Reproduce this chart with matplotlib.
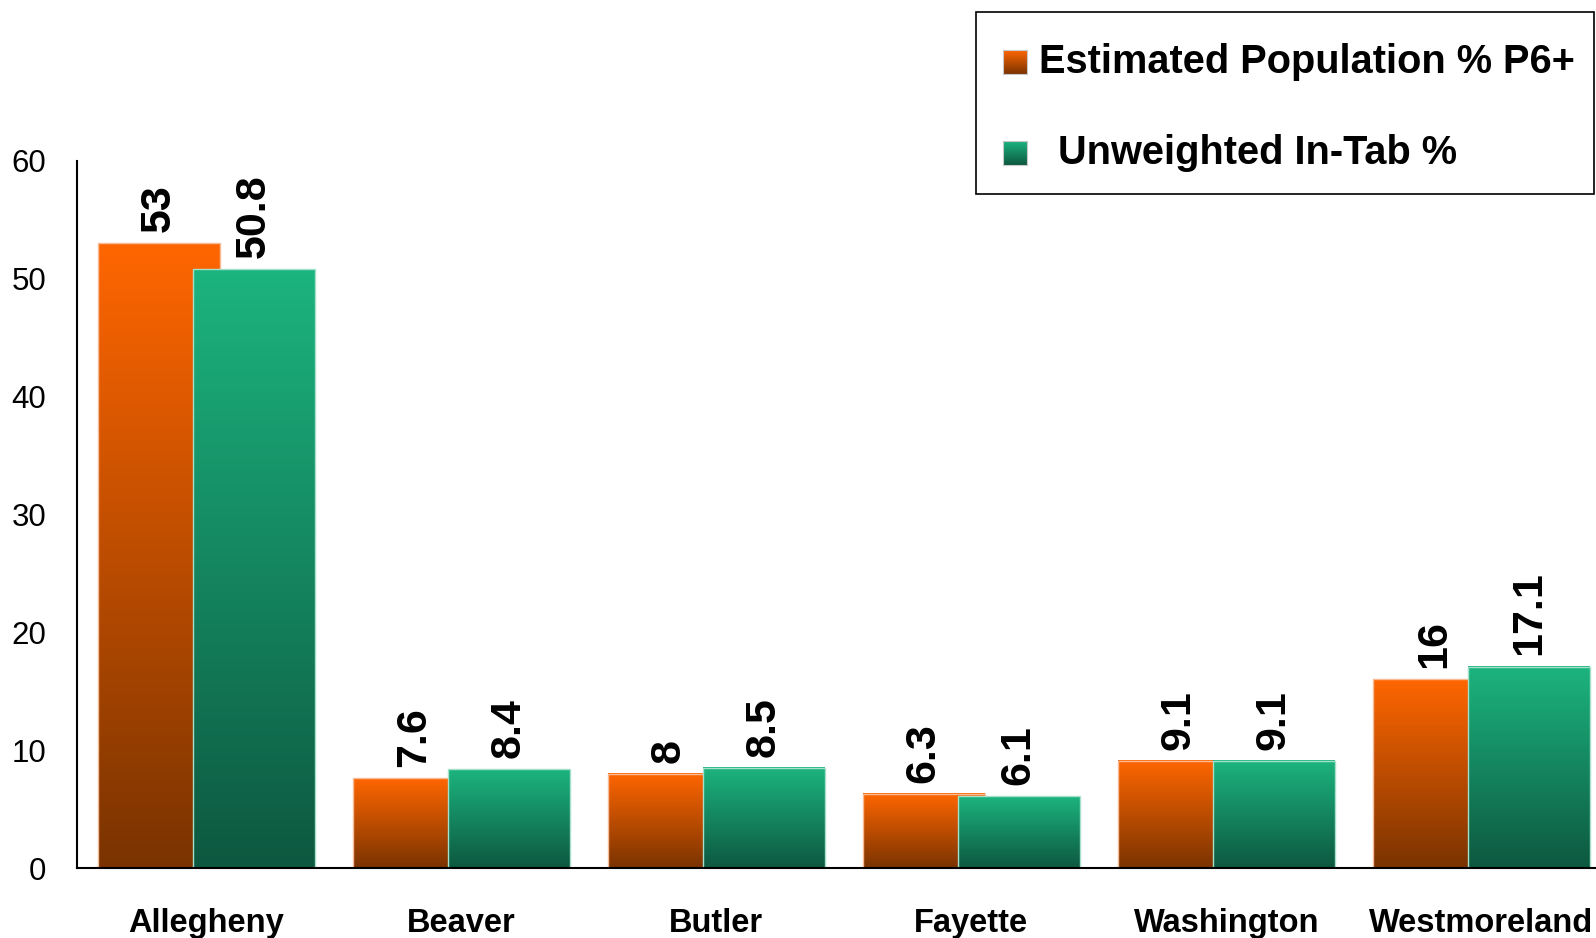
import numpy as np
import matplotlib
matplotlib.use("Agg")
from matplotlib import pyplot as plt
from matplotlib.colors import LinearSegmentedColormap
from matplotlib.patches import Rectangle

plt.rcParams['font.family'] = ['Liberation Sans', 'DejaVu Sans']

# данные
counties = ['Allegheny', 'Beaver', 'Butler', 'Fayette', 'Washington', 'Westmoreland']
estPop = [53, 7.6, 8, 6.3, 9.1, 16]
unwInTab = [50.8, 8.4, 8.5, 6.1, 9.1, 17.1]
labels = ['Estimated Population % P6+', ' Unweighted In-Tab %']

orangeMap = LinearSegmentedColormap.from_list('o', ['#7A3300', '#FF6600'])
greenMap = LinearSegmentedColormap.from_list('g', ['#0D5840', '#1CB47F'])
grad = np.linspace(0, 1, 256).reshape(-1, 1)

w = 0.478      # ширина столбца
shift = 0.3725  # сдвиг зелёного столбца

fig = plt.figure(figsize=(15.96, 9.38), dpi=100)
ax = fig.add_axes([0.0482, 0.0746, 0.9518, 0.7538])

x = np.arange(len(counties))
for i in range(len(counties)):
    for val, off, cm, ec, z in [(estPop[i], 0, orangeMap, '#F6BC98', 1),
                                (unwInTab[i], shift, greenMap, '#A6E0CA', 3)]:
        x0 = x[i] + off
        ax.imshow(grad, extent=(x0, x0 + w, 0, val), origin='lower', cmap=cm,
                  aspect='auto', zorder=z)
        ax.add_patch(Rectangle((x0, 0), w, val, fill=False, edgecolor=ec,
                               linewidth=1, zorder=z + 0.5))
        ax.annotate(f'{val:g}', (x0 + w / 2, val), xytext=(0, 8),
                    textcoords='offset points', rotation=90, ha='center',
                    va='bottom', fontsize=31, fontweight='bold', zorder=5)

ax.set_xlim(-0.082, 5.875)
ax.set_ylim(0, 60)
ax.set_yticks(range(0, 61, 10))
ax.set_xticks(x + (shift + w) / 2)
ax.set_xticklabels(counties, fontsize=23.5, fontweight='bold')
ax.tick_params(axis='x', length=0, pad=29)
ax.tick_params(axis='y', length=0, pad=22, labelsize=22.5)
ax.spines['top'].set_visible(False)
ax.spines['right'].set_visible(False)
ax.spines['left'].set_linewidth(1.5)
ax.spines['bottom'].set_linewidth(1.5)
for s in ['left', 'bottom']:
    ax.spines[s].set_zorder(6)

# легенда
W, H = 1596, 938
fig.patches.append(Rectangle((976 / W, 1 - 194 / H), (1594 - 976) / W, 182 / H,
                             transform=fig.transFigure, fill=False,
                             edgecolor='black', linewidth=1.2))
rows = [62, 153]
textX = [1039, 1047]
for lab, cy, tx, cm in zip(labels, rows, textX, [orangeMap, greenMap]):
    mAx = fig.add_axes([1003 / W, 1 - (cy + 12) / H, 24 / W, 24 / H])
    mAx.imshow(grad, origin='lower', cmap=cm, aspect='auto')
    mAx.set_xticks([])
    mAx.set_yticks([])
    for sp in mAx.spines.values():
        sp.set_color('#C8C8C8')
        sp.set_linewidth(0.8)
    fig.text(tx / W, 1 - cy / H, lab, fontsize=28.6, fontweight='bold',
             va='center', ha='left')

plt.savefig('out.png', dpi=100)
